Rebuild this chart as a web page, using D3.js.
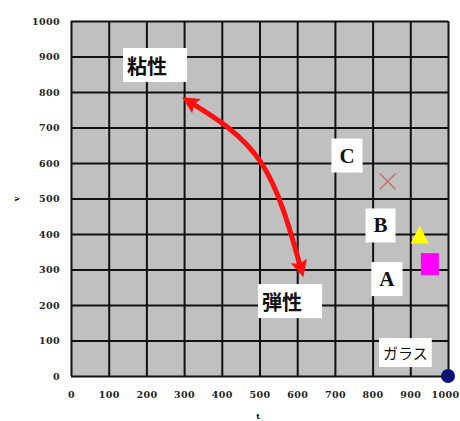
<!DOCTYPE html>
<html><head><meta charset="utf-8">
<script src="https://cdn.jsdelivr.net/npm/d3@7"></script>
<style>body{margin:0;background:#fff}svg{display:block}</style>
</head><body>
<svg id="c" width="460" height="421"></svg>
<script>
const ticks = [0,100,200,300,400,500,600,700,800,900,1000];
const pointNames = ["C","B","A","ガラス"];
const pointX = [840, 925, 952, 1000];
const pointY = [548, 390, 315, 0];
const pointShapes = ["cross","triangle","square","circle"];
const pointColors = ["#b87868","#ffff00","#ff00ff","#0a1478"];
const labelText = ["粘性","弾性","C","B","A","ガラス"];
const labelX = [223, 581, 732, 821, 838, 887];
const labelY = [876, 211, 621, 424, 273, 66];
const arrowX = [318, 503, 609];
const arrowY = [770, 603, 306];

const svg = d3.select("#c");
const x = d3.scaleLinear().domain([0,1000]).range([71,448]);
const y = d3.scaleLinear().domain([0,1000]).range([376,21]);

svg.append("rect").attr("x",x(0)).attr("y",y(1000)).attr("width",x(1000)-x(0)).attr("height",y(0)-y(1000)).attr("fill","#c0c0c0");

// grid via axes
const gx = svg.append("g").attr("transform",`translate(0,${y(0)})`)
  .call(d3.axisBottom(x).tickValues(ticks).tickSize(-(y(0)-y(1000))).tickFormat(""));
gx.select(".domain").remove();
gx.selectAll("line").attr("stroke","#111").attr("stroke-width",2);
const gy = svg.append("g").attr("transform",`translate(${x(0)},0)`)
  .call(d3.axisLeft(y).tickValues(ticks).tickSize(-(x(1000)-x(0))).tickFormat(""));
gy.select(".domain").remove();
gy.selectAll("line").attr("stroke","#111").attr("stroke-width",2);

// tick labels
const fmt = d3.format("d");
const lx = svg.append("g").attr("transform",`translate(0,${y(0)+15})`)
  .call(d3.axisBottom(x).tickValues(ticks).tickSize(0).tickPadding(0).tickFormat(fmt));
lx.select(".domain").remove();
lx.selectAll("text").attr("font-family","DejaVu Serif").attr("font-weight","bold").attr("font-size",9.5).attr("letter-spacing",0.4).attr("fill","#222");
lx.selectAll("text").filter(d=>d===1000).attr("text-anchor","end").attr("dx",11);
const ly = svg.append("g").attr("transform",`translate(${x(0)-11},0)`)
  .call(d3.axisLeft(y).tickValues(ticks).tickSize(0).tickPadding(0).tickFormat(fmt));
ly.select(".domain").remove();
ly.selectAll("text").attr("font-family","DejaVu Serif").attr("font-weight","bold").attr("font-size",9.5).attr("letter-spacing",0.4).attr("fill","#222");

svg.append("text").attr("transform","translate(19,199) rotate(-90)").attr("text-anchor","middle")
  .attr("font-family","DejaVu Serif").attr("font-size",8).attr("font-weight","bold").text("v");
svg.append("text").attr("x",258).attr("y",419).attr("text-anchor","middle")
  .attr("font-family","DejaVu Serif").attr("font-size",8).attr("font-weight","bold").text("t");

// labels
labelText.forEach((t,i)=>{
  const serif = /^[A-C]$/.test(t);
  const small = t==="ガラス";
  const g = svg.append("g");
  const cx = x(labelX[i]), cy = y(labelY[i]);
  const txt = g.append("text").attr("y",cy).attr("dominant-baseline","central")
    .attr("font-family", serif ? "Liberation Serif" : "Noto Sans CJK JP")
    .attr("font-weight", small ? "normal" : "bold")
    .attr("font-size", serif ? 21 : (small ? 15 : 20))
    .attr("fill","#111").text(t);
  const tw = txt.node().getComputedTextLength();
  const padL = serif ? 8 : (small ? 4 : 4);
  const padR = serif ? 8 : (small ? 4 : 20);
  const bw = tw + padL + padR;
  const bh = serif ? 34 : (small ? 29 : 34);
  const left = cx - bw/2;
  txt.attr("x", left + padL);
  g.insert("rect","text").attr("x",left).attr("y",cy-bh/2).attr("width",bw).attr("height",bh).attr("fill","#fff");
});

// arrow
const defs = svg.append("defs");
defs.append("marker").attr("id","ah").attr("viewBox","0 0 10 10").attr("refX",4).attr("refY",5)
  .attr("markerWidth",3.4).attr("markerHeight",3.4).attr("orient","auto-start-reverse").attr("markerUnits","strokeWidth")
  .append("path").attr("d","M0,0 L10,5 L0,10 L2,5 Z").attr("fill","#ff1010");
const pts = arrowX.map((d,i)=>[x(d),y(arrowY[i])]);
svg.append("path").attr("d",d3.line().curve(d3.curveNatural)(pts))
  .attr("fill","none").attr("stroke","#ff1010").attr("stroke-width",5)
  .attr("marker-start","url(#ah)").attr("marker-end","url(#ah)");

// points
pointNames.forEach((n,i)=>{
  const cx = x(pointX[i]), cy = y(pointY[i]);
  const s = pointShapes[i];
  if (s==="cross") {
    svg.append("path").attr("d",`M${cx-8},${cy-8}L${cx+8},${cy+8}M${cx+8},${cy-8}L${cx-8},${cy+8}`)
      .attr("stroke",pointColors[i]).attr("stroke-width",1.5);
  } else if (s==="triangle") {
    svg.append("path").attr("d",`M${cx},${cy-12}L${cx+9},${cy+6}L${cx-9},${cy+6}Z`).attr("fill",pointColors[i]);
  } else if (s==="square") {
    svg.append("rect").attr("x",cx-9).attr("y",cy-11).attr("width",18).attr("height",22).attr("fill",pointColors[i]);
  } else {
    svg.append("circle").attr("cx",cx).attr("cy",cy).attr("r",7).attr("fill",pointColors[i]);
  }
});
</script>
</body></html>
